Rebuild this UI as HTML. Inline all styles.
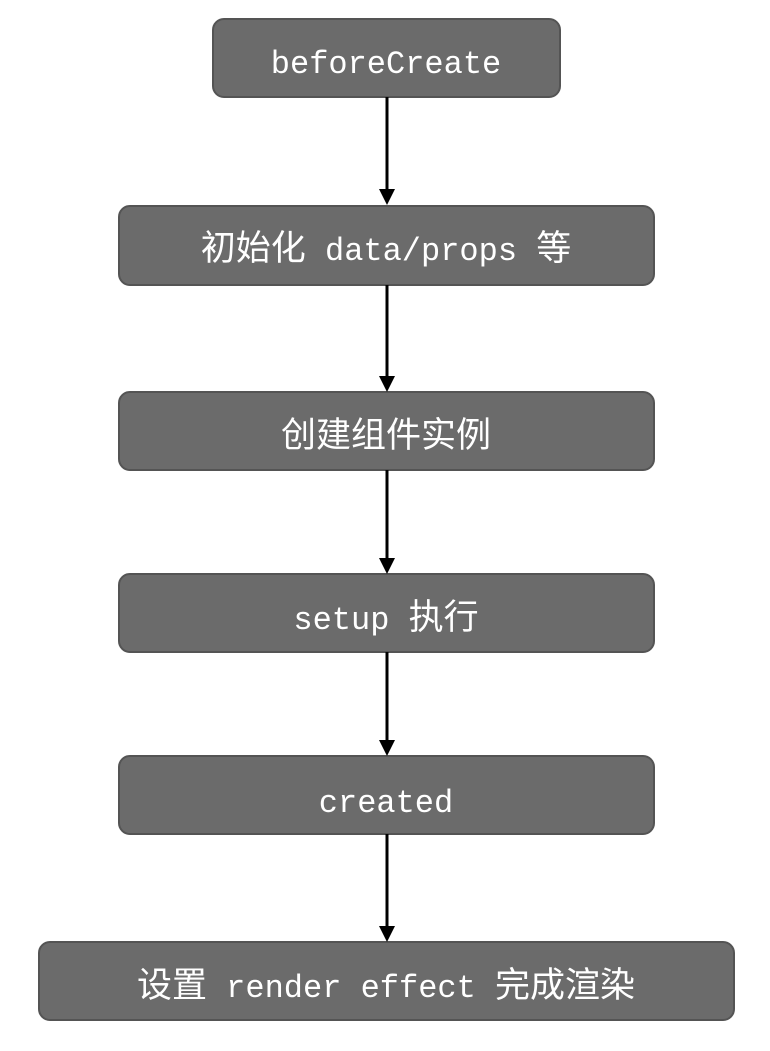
<!DOCTYPE html>
<html><head><meta charset="utf-8"><style>html,body{margin:0;padding:0;background:#fff}</style></head><body>
<svg width="770" height="1046" viewBox="0 0 770 1046" xmlns="http://www.w3.org/2000/svg" font-family="Liberation Mono, Noto Sans CJK SC, monospace" font-size="32" fill="#fff">
<g fill="#6b6b6b" stroke="#545454" stroke-width="2">
<rect x="213" y="19" width="347" height="78" rx="11"/>
<rect x="119" y="206" width="535" height="79" rx="11"/>
<rect x="119" y="392" width="535" height="78" rx="11"/>
<rect x="119" y="574" width="535" height="78" rx="11"/>
<rect x="119" y="756" width="535" height="78" rx="11"/>
<rect x="39" y="942" width="695" height="78" rx="11"/>
</g>
<g stroke="#000" stroke-width="3">
<line x1="387" y1="97" x2="387" y2="190"/>
<line x1="387" y1="285" x2="387" y2="377"/>
<line x1="387" y1="470" x2="387" y2="559"/>
<line x1="387" y1="652" x2="387" y2="741"/>
<line x1="387" y1="834" x2="387" y2="927"/>
</g>
<g fill="#000">
<polygon points="379,189 395,189 387,205"/>
<polygon points="379,376 395,376 387,392"/>
<polygon points="379,558 395,558 387,574"/>
<polygon points="379,740 395,740 387,756"/>
<polygon points="379,926 395,926 387,942"/>
</g>
<g text-anchor="middle" fill="#fff">
<text x="386" y="73">beforeCreate</text>
<text x="386" y="260"><tspan font-size="35">初始化</tspan> data/props <tspan font-size="35">等</tspan></text>
<text x="386" y="447" font-size="35">创建组件实例</text>
<text x="386" y="629">setup <tspan font-size="35">执行</tspan></text>
<text x="386" y="812">created</text>
<text x="386" y="997"><tspan font-size="35">设置</tspan> render effect <tspan font-size="35">完成渲染</tspan></text>
</g>
</svg>
</body></html>
